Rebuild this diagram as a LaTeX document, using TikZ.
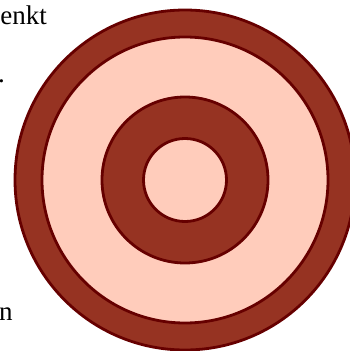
\documentclass[tikz,border=0pt]{standalone}
\usepackage{fontspec}
\setmainfont{Liberation Serif}
\definecolor{ringdark}{HTML}{963322}
\definecolor{ringpale}{HTML}{FFCCBB}
\definecolor{ringedge}{HTML}{660000}
\begin{document}
\begin{tikzpicture}[
  x=1pt, y=-1pt,
  ring/.style={circle, draw=ringedge, line width=2.8pt, inner sep=0pt},
  darkring/.style={ring, fill=ringdark},
  palering/.style={ring, fill=ringpale},
  sidetext/.style={inner sep=0pt, font=\fontsize{27}{32}\selectfont},
]
\useasboundingbox (0,0) rectangle (350,351);
\clip (0,0) rectangle (350,351);

% Concentric rings, drawn from the outside in
\node[darkring, minimum size=340pt] (outer) at (185,180) {};
\node[palering, minimum size=286pt] (second) at (outer.center) {};
\node[darkring, minimum size=166pt] (third) at (outer.center) {};
\node[palering, minimum size=83pt]  (inner) at (outer.center) {};

% Text cut off at the left edge
\node[sidetext, anchor=base east] (topword) at (47,24) {enkt};
\node[sidetext, anchor=base west] (dotmark) at (-2,82) {.};
\node[sidetext, anchor=base west] (lowword) at (-1,320) {n};

\end{tikzpicture}
\end{document}
